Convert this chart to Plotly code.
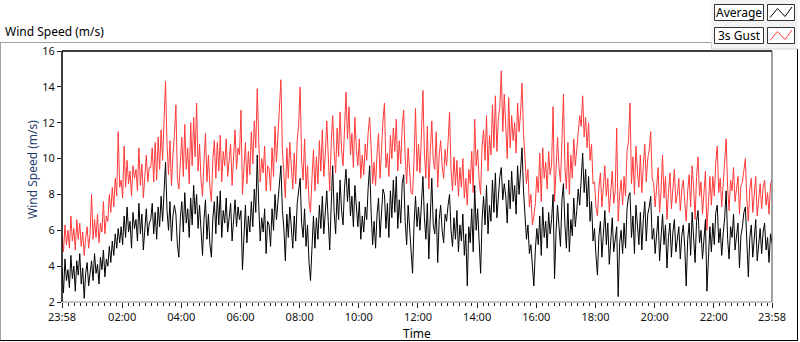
import pandas as pd
import plotly.graph_objects as go

# ---------------- data (3-minute samples, 23:58 -> 23:58 next day) ----------------
start_time = "2013-01-01 23:58"
sample_minutes = 3

average = [
    3.9, 2.5, 4.4, 3.2, 3.8, 2.8, 4.6, 3.3, 4.0, 2.6, 4.3, 3.5, 4.7, 3.0, 3.9, 2.2, 3.6, 4.2, 2.9, 3.8,
    4.3, 3.2, 4.7, 3.6, 4.1, 3.0, 4.5, 3.8, 4.9, 3.4, 4.4, 4.0, 5.1, 4.2, 5.4, 4.6, 5.8, 5.0, 6.1, 5.3,
    6.2, 5.2, 6.8, 5.6, 7.3, 5.9, 6.5, 5.0, 7.0, 6.1, 6.6, 5.4, 7.5, 5.8, 6.9, 4.9, 6.3, 7.2, 5.7, 6.4,
    6.6, 7.5, 5.8, 7.0, 5.5, 7.3, 6.2, 7.9, 6.5, 8.2, 9.8, 7.1, 6.0, 7.6, 5.4, 6.8, 7.4, 6.9, 5.2, 4.5,
    6.7, 7.6, 5.9, 8.1, 6.4, 7.2, 5.6, 7.8, 6.3, 8.5, 6.9, 8.0, 6.1, 7.4, 5.8, 4.6, 6.6, 7.7, 5.5, 6.9,
    5.2, 4.5, 6.7, 7.6, 5.8, 7.9, 6.3, 8.2, 5.6, 7.1, 6.4, 7.8, 5.9, 6.8, 7.5, 5.4, 6.9, 7.7, 6.2, 7.3,
    6.6, 7.1, 3.8, 6.0, 7.4, 5.3, 6.8, 5.9, 7.6, 6.2, 8.3, 7.0, 10.2, 7.4, 5.4, 6.7, 5.9, 7.2, 4.7, 6.5,
    6.3, 5.1, 7.2, 6.0, 8.0, 6.6, 7.7, 8.6, 9.6, 7.1, 6.1, 4.3, 6.9, 5.6, 7.3, 6.2, 5.0, 6.8, 5.4, 7.5,
    8.1, 8.9, 6.4, 5.6, 7.2, 5.1, 6.3, 4.2, 3.2, 5.6, 6.8, 5.0, 6.7, 5.5, 7.4, 6.1, 7.9, 5.8, 6.9, 8.2,
    6.5, 4.9, 7.4, 9.6, 7.0, 5.8, 8.1, 6.6, 8.8, 7.1, 6.3, 8.4, 9.4, 7.6, 8.9, 6.8, 7.9, 6.2, 8.5, 7.3,
    6.2, 7.6, 5.5, 6.8, 5.9, 7.3, 6.6, 8.4, 9.6, 7.0, 5.2, 6.5, 5.0, 6.9, 7.8, 5.6, 7.2, 8.3, 8.0, 6.1,
    7.5, 5.6, 8.2, 6.7, 8.8, 7.0, 9.0, 6.1, 7.7, 6.4, 8.6, 9.1, 6.5, 5.2, 7.4, 5.9, 4.4, 3.6, 6.3, 7.9,
    6.2, 7.3, 6.0, 7.8, 9.0, 6.7, 5.5, 7.5, 4.4, 6.8, 8.9, 6.3, 5.8, 7.2, 4.2, 6.6, 7.4, 6.0, 5.3, 6.9,
    6.5, 7.4, 8.0, 6.0, 5.1, 6.7, 5.5, 7.1, 4.8, 6.3, 5.4, 6.9, 4.6, 5.8, 2.9, 6.2, 5.3, 7.2, 4.8, 8.5,
    6.0, 7.2, 5.4, 3.6, 6.6, 7.9, 6.3, 8.5, 5.8, 7.4, 6.5, 8.8, 7.0, 9.2, 6.7, 8.1, 9.0, 9.5, 7.7, 8.6,
    7.9, 6.4, 8.8, 7.2, 9.3, 7.6, 8.5, 6.9, 9.6, 8.0, 9.1, 10.6, 8.2, 7.0, 5.5, 6.3, 4.7, 5.2, 3.8, 2.9,
    4.9, 6.1, 5.2, 6.8, 4.6, 7.3, 5.6, 6.5, 5.0, 7.0, 5.8, 6.6, 8.0, 3.3, 5.9, 7.4, 6.2, 5.1, 7.7, 8.6,
    6.3, 5.0, 7.5, 4.8, 6.6, 5.7, 7.8, 6.2, 7.1, 8.3, 7.4, 9.0, 10.3, 8.1, 9.4, 7.3, 9.0, 6.5, 7.6, 5.4,
    6.1, 4.6, 3.5, 5.7, 6.5, 4.5, 6.0, 7.1, 5.2, 6.4, 4.1, 5.8, 6.7, 4.8, 5.5, 6.2, 2.3, 5.3, 6.0, 4.7,
    6.4, 5.0, 7.2, 7.9, 8.1, 5.6, 6.8, 4.7, 7.4, 6.0, 5.2, 7.0, 4.9, 6.6, 7.6, 5.4, 6.9, 7.3, 7.9, 5.5,
    6.1, 4.7, 5.9, 6.8, 4.3, 5.5, 6.9, 5.2, 6.3, 3.9, 5.6, 6.4, 4.5, 5.9, 6.6, 4.8, 5.4, 6.2, 4.4, 5.7,
    6.3, 5.1, 2.9, 5.5, 6.4, 4.6, 7.0, 5.8, 4.2, 6.5, 7.1, 5.3, 6.0, 4.4, 5.7, 6.6, 2.6, 5.0, 6.2, 4.8,
    6.4, 5.2, 7.0, 7.4, 5.3, 6.1, 4.6, 5.8, 6.7, 8.2, 5.5, 4.4, 6.2, 5.6, 6.9, 4.9, 5.8, 6.4, 3.9, 5.7,
    6.2, 7.0, 7.3, 5.1, 3.4, 5.6, 6.3, 4.5, 5.8, 6.6, 4.3, 5.5, 6.1, 4.7, 5.9, 6.4, 4.9, 5.6, 4.2, 5.8,
    5.3,
]

gust_3s = [
    5.7, 4.8, 6.3, 5.2, 6.0, 5.0, 6.8, 5.4, 6.1, 4.9, 6.6, 5.5, 6.4, 5.1, 5.9, 4.6, 5.6, 6.2, 5.0, 5.8,
    8.0, 5.5, 6.6, 5.6, 6.9, 5.3, 6.4, 5.9, 7.6, 5.8, 6.8, 6.5, 8.0, 7.0, 8.4, 7.3, 8.9, 7.9, 11.5, 8.4,
    8.8, 7.8, 10.7, 8.4, 9.9, 8.6, 9.3, 7.9, 9.6, 8.9, 9.4, 8.2, 10.6, 8.5, 9.7, 7.8, 9.0, 10.2, 8.7, 9.5,
    9.5, 10.6, 8.7, 10.9, 8.8, 11.2, 9.4, 11.6, 9.9, 12.4, 14.3, 10.8, 9.1, 11.0, 8.5, 10.2, 11.3, 13.0, 8.9, 8.3,
    9.8, 11.2, 9.0, 11.9, 9.4, 10.6, 8.6, 12.0, 9.6, 12.3, 10.1, 13.1, 9.3, 10.8, 8.8, 7.9, 9.9, 11.4, 8.7, 10.2,
    8.4, 7.6, 10.0, 11.0, 8.9, 10.9, 9.3, 11.3, 8.7, 10.4, 9.6, 11.1, 9.0, 10.0, 10.8, 8.5, 10.3, 11.6, 9.4, 10.6,
    10.2, 12.7, 8.0, 9.5, 10.9, 8.6, 10.4, 9.1, 11.5, 9.7, 12.1, 10.6, 13.9, 11.0, 8.7, 10.0, 9.2, 10.7, 8.2, 9.6,
    9.4, 8.2, 10.6, 9.0, 11.8, 9.8, 11.2, 12.4, 14.4, 10.5, 9.3, 7.8, 10.6, 8.9, 10.9, 9.5, 8.3, 10.3, 8.6, 11.0,
    11.9, 14.0, 9.9, 8.8, 11.1, 8.3, 9.6, 7.6, 7.0, 8.9, 10.5, 8.2, 10.1, 8.6, 11.0, 9.3, 11.6, 9.0, 10.2, 12.1,
    10.0, 8.2, 10.9, 12.4, 10.4, 9.2, 11.7, 10.1, 12.6, 10.5, 9.6, 12.0, 13.7, 11.1, 12.9, 10.2, 11.4, 9.5, 12.3, 10.6,
    9.6, 11.1, 8.9, 10.2, 9.1, 10.8, 9.9, 11.5, 12.3, 10.6, 8.6, 9.8, 8.5, 10.3, 11.4, 8.9, 10.7, 12.1, 13.1, 9.5,
    10.3, 9.0, 11.3, 10.0, 11.7, 10.4, 12.2, 9.3, 11.0, 9.7, 11.8, 12.7, 10.1, 8.6, 10.6, 9.2, 8.1, 8.0, 9.9, 12.8,
    9.3, 10.8, 9.2, 11.4, 13.8, 10.3, 8.9, 11.8, 8.3, 10.4, 12.1, 9.9, 9.4, 11.5, 8.4, 10.2, 11.0, 9.6, 8.9, 10.5,
    9.6, 10.9, 12.6, 9.4, 8.2, 10.1, 8.5, 9.9, 7.9, 9.5, 8.4, 10.0, 7.8, 8.9, 7.4, 9.4, 8.6, 10.4, 8.1, 12.2,
    9.6, 10.5, 8.8, 8.0, 10.7, 11.6, 9.9, 12.4, 9.3, 11.3, 10.2, 13.0, 10.6, 13.5, 10.4, 12.2, 12.9, 14.9, 11.5, 13.6,
    11.2, 10.0, 13.4, 10.6, 12.4, 11.0, 12.0, 10.3, 13.1, 11.5, 12.5, 14.2, 11.4, 10.2, 8.6, 9.4, 7.3, 8.0, 6.3, 6.8,
    7.5, 9.0, 8.1, 10.3, 7.6, 10.6, 8.9, 9.8, 8.3, 10.4, 9.1, 9.7, 12.9, 7.6, 9.3, 11.2, 9.5, 8.7, 11.0, 13.6,
    9.5, 8.3, 10.9, 8.0, 10.2, 8.9, 11.1, 9.6, 10.5, 11.7, 12.4, 11.8, 13.5, 11.2, 12.3, 10.6, 12.0, 9.9, 10.8, 8.6,
    8.7, 7.3, 6.8, 8.4, 9.2, 7.3, 8.6, 9.6, 7.9, 8.9, 7.0, 8.5, 9.3, 7.5, 8.2, 11.7, 6.5, 8.0, 8.8, 7.4,
    9.0, 7.9, 10.4, 11.0, 13.1, 8.6, 10.1, 8.0, 10.7, 9.3, 8.4, 10.2, 8.1, 9.6, 10.8, 8.7, 10.0, 10.5, 11.5, 8.9,
    8.6, 7.3, 8.5, 9.5, 7.0, 8.2, 10.2, 7.8, 9.0, 6.6, 8.1, 9.2, 7.2, 8.4, 9.4, 7.5, 8.0, 8.9, 7.1, 8.3,
    8.8, 7.6, 6.5, 8.2, 9.1, 7.3, 9.6, 8.4, 6.6, 9.0, 10.1, 7.9, 8.7, 6.9, 8.3, 9.3, 6.0, 7.7, 9.0, 7.4,
    9.0, 7.9, 9.8, 10.7, 8.1, 8.9, 7.3, 8.6, 9.7, 11.1, 8.4, 7.1, 8.8, 8.2, 9.5, 7.6, 8.3, 9.0, 6.9, 8.5,
    8.7, 9.4, 10.0, 7.7, 6.5, 8.3, 8.9, 7.0, 8.2, 9.0, 6.8, 7.9, 8.6, 7.2, 8.4, 8.8, 7.4, 8.1, 6.9, 8.6,
    8.8,
]

series_names = ["Average", "3s Gust"]
x_tick_labels = ["23:58", "02:00", "04:00", "06:00", "08:00", "10:00", "12:00",
                 "14:00", "16:00", "18:00", "20:00", "22:00", "23:58"]
y_tick_values = [2, 4, 6, 8, 10, 12, 14, 16]

assert len(average) == len(gust_3s)

# ---------------- build ----------------
times = pd.date_range(start_time, periods=len(average), freq=f"{sample_minutes}min")
t0, t1 = times[0], times[-1]
tick_vals = [t0] + [pd.Timestamp("2013-01-02") + pd.Timedelta(hours=h) for h in range(2, 23, 2)] + [t1]

W, H = 800, 342
L, R, T, B = 62, 772, 51, 302


def px(x):
    return (x - L) / (R - L)


def py(y):
    return (B - y) / (B - T)


FONT = "Noto Sans, Liberation Sans, Arial, sans-serif"
RED = "#ff3a3a"

fig = go.Figure()
fig.add_trace(go.Scatter(x=times, y=gust_3s, mode="lines", name=series_names[1],
                         line=dict(color=RED, width=1), hoverinfo="skip"))
fig.add_trace(go.Scatter(x=times, y=average, mode="lines", name=series_names[0],
                         line=dict(color="#000000", width=1), hoverinfo="skip"))

shapes = []
grey = "#a0a0a0"
# legend panel background
shapes.append(dict(type="rect", xref="paper", yref="paper", x0=px(711.5), x1=px(797.5), y0=py(0), y1=py(49),
                   fillcolor="#f3f3f3", line=dict(width=0), layer="below"))
# outer panel frame: light top/left, dark bottom/right
shapes += [
    dict(type="line", xref="paper", yref="paper", x0=px(0), x1=px(711.5), y0=py(42.5), y1=py(42.5),
         line=dict(color=grey, width=1)),
    dict(type="line", xref="paper", yref="paper", x0=px(711.5), x1=px(711.5), y0=py(42.5), y1=py(49),
         line=dict(color="#d0d0d0", width=1)),
    dict(type="line", xref="paper", yref="paper", x0=px(711.5), x1=px(797.5), y0=py(49), y1=py(49),
         line=dict(color="#d0d0d0", width=1)),
    dict(type="line", xref="paper", yref="paper", x0=px(0.5), x1=px(0.5), y0=py(42.5), y1=py(341),
         line=dict(color=grey, width=1)),
    dict(type="line", xref="paper", yref="paper", x0=px(0), x1=px(798), y0=py(340.5), y1=py(340.5),
         line=dict(color="#000000", width=1)),
    dict(type="line", xref="paper", yref="paper", x0=px(797.5), x1=px(797.5), y0=py(49), y1=py(341),
         line=dict(color="#000000", width=1)),
]
# plot frame
shapes += [
    dict(type="line", xref="paper", yref="paper", x0=0, x1=1, y0=1, y1=1, line=dict(color="#000", width=1.5)),
    dict(type="line", xref="paper", yref="paper", x0=0, x1=0, y0=0, y1=1, line=dict(color="#000", width=1.5)),
    dict(type="line", xref="paper", yref="paper", x0=0, x1=1, y0=0, y1=0, line=dict(color="#8c8c8c", width=1)),
    dict(type="line", xref="paper", yref="paper", x0=1, x1=1, y0=0, y1=1, line=dict(color="#444444", width=1)),
]
# legend boxes
annotations = []
for i, (name, col) in enumerate(zip(series_names, ["#000000", RED])):
    y0 = 4.5 + i * 23
    y1 = y0 + 16
    shapes.append(dict(type="rect", xref="paper", yref="paper", x0=px(714.5), x1=px(763.5),
                       y0=py(y0), y1=py(y1), fillcolor="white", line=dict(color="#333", width=1)))
    shapes.append(dict(type="rect", xref="paper", yref="paper", x0=px(767.5), x1=px(794.5),
                       y0=py(y0), y1=py(y1), fillcolor="white", line=dict(color="#333", width=1)))
    pts = [(770, y1 - 3), (777.5, y0 + 4), (785, y1 - 4), (792, y0 + 2.5)]
    path = "M " + " L ".join(f"{px(a)},{py(b)}" for a, b in pts)
    shapes.append(dict(type="path", xref="paper", yref="paper", path=path,
                       line=dict(color=col, width=1)))
    annotations.append(dict(text=name, xref="paper", yref="paper", x=px(739), y=py((y0 + y1) / 2),
                            xanchor="center", yanchor="middle", showarrow=False,
                            font=dict(family=FONT, size=12, color="#000")))

annotations += [
    dict(text="Wind Speed (m/s)", xref="paper", yref="paper", x=px(3), y=py(31),
         xanchor="left", yanchor="middle", showarrow=False,
         font=dict(family=FONT, size=12, color="#000")),
    dict(text="Wind Speed (m/s)", xref="paper", yref="paper", x=px(32), y=py(170),
         xanchor="center", yanchor="middle", showarrow=False, textangle=-90,
         font=dict(family=FONT, size=12, color="#1f3f6e")),
    dict(text="Time", xref="paper", yref="paper", x=px(417), y=py(333),
         xanchor="center", yanchor="middle", showarrow=False,
         font=dict(family=FONT, size=12, color="#000")),
]

fig.update_layout(
    width=W, height=H,
    margin=dict(l=L, r=W - R, t=T, b=H - B, pad=0),
    paper_bgcolor="white", plot_bgcolor="white",
    showlegend=False, hovermode=False,
    shapes=shapes, annotations=annotations,
    font=dict(family=FONT, size=11, color="#111"),
    xaxis=dict(
        range=[t0, t1], type="date", tickmode="array", tickvals=tick_vals, ticktext=x_tick_labels,
        ticks="outside", ticklen=5, tickcolor="#222", tickwidth=1, showgrid=False, zeroline=False,
        showline=False, tickfont=dict(family=FONT, size=11, color="#111"),
        minor=dict(tickmode="linear", tick0="2013-01-02 00:00", dtick=12 * 60 * 1000,
                   ticks="outside", ticklen=3, tickcolor="#222", showgrid=False),
        fixedrange=True,
    ),
    yaxis=dict(
        range=[2, 16], tickmode="array", tickvals=y_tick_values,
        ticks="outside", ticklen=4, tickcolor="#222", showgrid=False, zeroline=False,
        showline=False, tickfont=dict(family=FONT, size=11, color="#111"), fixedrange=True,
    ),
)

fig.write_html("out.html", config={"displayModeBar": False},
               post_script="document.body.style.margin='0px';document.body.style.padding='0px';")
